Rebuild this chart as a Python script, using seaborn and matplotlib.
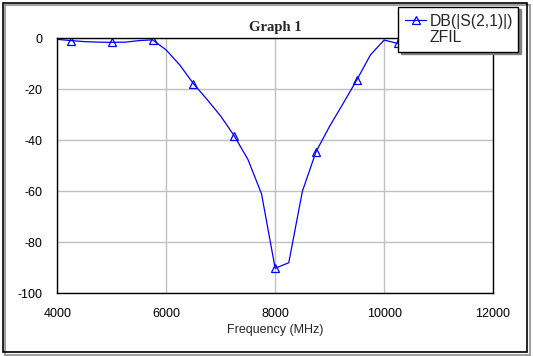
from matplotlib import pyplot as plt
from matplotlib.patches import Rectangle
from matplotlib.lines import Line2D
import seaborn as sns

# частота (МГц) и отклик фильтра (дБ)
freq = [4000, 4250, 4500, 4750, 5000, 5250, 5500, 5750, 6000, 6250, 6500,
        6750, 7000, 7250, 7500, 7750, 8000, 8250, 8500, 8750, 9000, 9250,
        9500, 9750, 10000, 10250, 10500, 10750, 11000, 11250, 11500, 11750, 12000]
s21_db = [-0.4, -0.9, -1.3, -1.5, -1.6, -1.5, -0.9, -0.6, -4.6, -10.5, -17.8,
          -24.0, -30.5, -38.3, -47.5, -61.0, -90.2, -88.0, -60.0, -44.5, -34.5, -25.5,
          -16.3, -6.5, -0.7, -2.0, -1.2, -0.8, -1.0, -1.5, -1.2, -0.9, -1.0]
x_ticks = [4000, 6000, 8000, 10000, 12000]
y_ticks = [0, -20, -40, -60, -80, -100]
legend_labels = ['DB(|S(2,1)|)', 'ZFIL']

sns.set_style('white')
plt.rcParams['font.family'] = ['Liberation Sans', 'DejaVu Sans']
plt.rcParams['axes.unicode_minus'] = False

W, H = 533, 356
fig = plt.figure(figsize=(W / 100, H / 100), dpi=100)
fig.patch.set_facecolor('white')
ax = fig.add_axes([57.3 / W, 1 - 293.3 / H, (493 - 57.3) / W, (293.3 - 38.3) / H])

sns.lineplot(x=freq, y=s21_db, ax=ax, color='#0000ff', linewidth=0.9,
             marker='^', markersize=5.8, markerfacecolor='none',
             markeredgecolor='#0000ff', markeredgewidth=0.9, markevery=(1, 3))

ax.set_xlim(4000, 12000)
ax.set_ylim(-100, 0)
ax.set_xticks(x_ticks)
ax.set_yticks(y_ticks)
ax.grid(True, color='#c0c0c0', linewidth=1.0)
ax.set_axisbelow(True)
for sp in ax.spines.values():
    sp.set_color('black')
    sp.set_linewidth(1.0)
ax.tick_params(length=0, labelsize=9, colors='black')
ax.tick_params(axis='x', pad=10.3)
ax.tick_params(axis='y', pad=10.7)
ax.set_xlabel('Frequency (MHz)', fontsize=9, labelpad=3.5)
ax.set_ylabel('')
ax.set_title('Graph 1', family=['Liberation Serif', 'DejaVu Serif'],
             fontweight='bold', fontsize=10.5, pad=5)

# легенда с тенью
handles = [Line2D([], [], color='#0000ff', linewidth=0.9, marker='^', markersize=5.8,
                  markerfacecolor='none', markeredgewidth=0.9),
           Line2D([], [], alpha=0)]
leg = ax.legend(handles, legend_labels, loc='upper left',
                bbox_to_anchor=(398.3 / W, 1 - 52 / H, 120 / W, 45.3 / H),
                bbox_transform=fig.transFigure, mode='expand', borderaxespad=0,
                fontsize=11.3, handlelength=1.3, handletextpad=0.25,
                labelspacing=0.05, borderpad=0.45, fancybox=False, framealpha=1,
                edgecolor='black', shadow={'color': '#808080', 'alpha': 1})
leg.get_frame().set_linewidth(1.0)
leg.set_zorder(10)

# рамка вокруг всей картинки
fig.patches.append(Rectangle((5 / W, 1 - 354.5 / H), 524.5 / W, 349.5 / H,
                             transform=fig.transFigure, facecolor='none',
                             edgecolor='#a0a0a0', linewidth=1.5, zorder=0))
fig.patches.append(Rectangle((2.5 / W, 1 - 351.5 / H), 524.5 / W, 349 / H,
                             transform=fig.transFigure, facecolor='none',
                             edgecolor='black', linewidth=1.2, zorder=1))

plt.savefig('out.png', dpi=100)
